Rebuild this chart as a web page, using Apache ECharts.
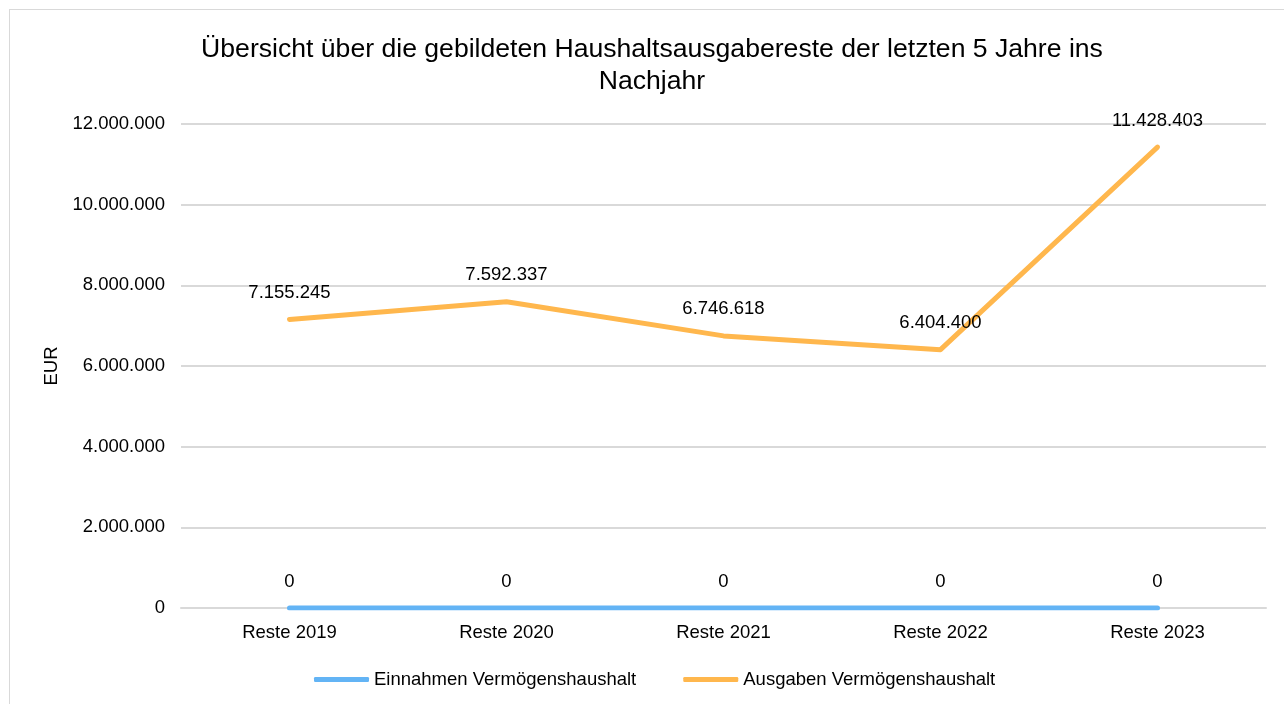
<!DOCTYPE html>
<html>
<head>
<meta charset="utf-8">
<script src="https://cdn.jsdelivr.net/npm/echarts@6/dist/echarts.min.js"></script>
<style>
  html, body { margin: 0; padding: 0; background: #fff; }
  #frame { position: absolute; left: 9px; top: 9px; width: 1290px; height: 720px; border: 1px solid #D9D9D9; box-sizing: border-box; }
  #canvas { position: absolute; left: 0; top: 0; width: 1284px; height: 704px; }
</style>
</head>
<body>
<div id="frame"></div>
<div id="canvas"></div>
<script>
var categories = ['Reste 2019', 'Reste 2020', 'Reste 2021', 'Reste 2022', 'Reste 2023'];
var einnahmen = [0, 0, 0, 0, 0];
var ausgaben = [7155245, 7592337, 6746618, 6404400, 11428403];

function fmt(v) {
    return String(v).replace(/\B(?=(\d{3})+(?!\d))/g, '.');
}

var myChart = echarts.init(document.getElementById('canvas'));
var font = 'Liberation Sans, Arial, sans-serif';
var small = 18.5;
var pointLabel = {
    show: true,
    position: 'top',
    distance: 17,
    color: '#000',
    fontSize: small,
    fontFamily: font,
    formatter: function (p) { return fmt(p.value); }
};
var option = {
    animation: false,
    color: ['#63B4F5', '#FFB74D'],
    textStyle: { fontFamily: font },
    title: {
        text: 'Übersicht über die gebildeten Haushaltsausgabereste der letzten 5 Jahre ins\nNachjahr',
        left: 647,
        top: 29,
        textAlign: 'center',
        textStyle: {
            fontFamily: font,
            fontSize: 26.6,
            fontWeight: 'normal',
            color: '#000',
            lineHeight: 32
        }
    },
    legend: {
        left: 309,
        top: 665,
        icon: 'roundRect',
        itemWidth: 55,
        itemHeight: 5,
        itemGap: 47,
        textStyle: { fontFamily: font, fontSize: small, color: '#000' },
        data: ['Einnahmen Vermögenshaushalt', 'Ausgaben Vermögenshaushalt']
    },
    grid: {
        left: 181,
        right: 18,
        top: 124,
        bottom: 96
    },
    xAxis: {
        type: 'category',
        data: categories,
        axisTick: { show: false },
        axisLine: { lineStyle: { color: '#D9D9D9', width: 2 } },
        axisLabel: { color: '#000', fontSize: small, margin: 15, fontFamily: font }
    },
    yAxis: {
        type: 'value',
        min: 0,
        max: 12000000,
        interval: 2000000,
        name: 'EUR',
        nameLocation: 'middle',
        nameGap: 116,
        nameTextStyle: { color: '#000', fontSize: small, fontFamily: font },
        axisLine: { show: false },
        axisTick: { show: false },
        axisLabel: { color: '#000', fontSize: small, margin: 16, fontFamily: font, formatter: fmt },
        splitLine: { lineStyle: { color: '#D9D9D9', width: 2 } }
    },
    series: [{
        name: 'Einnahmen Vermögenshaushalt',
        type: 'line',
        data: einnahmen,
        symbol: 'circle',
        symbolSize: 0.1,
        lineStyle: { width: 5, cap: 'round' },
        label: pointLabel
    }, {
        name: 'Ausgaben Vermögenshaushalt',
        type: 'line',
        data: ausgaben,
        symbol: 'circle',
        symbolSize: 0.1,
        lineStyle: { width: 5, cap: 'round', join: 'round' },
        label: pointLabel
    }]
};
myChart.setOption(option);
</script>
</body>
</html>
